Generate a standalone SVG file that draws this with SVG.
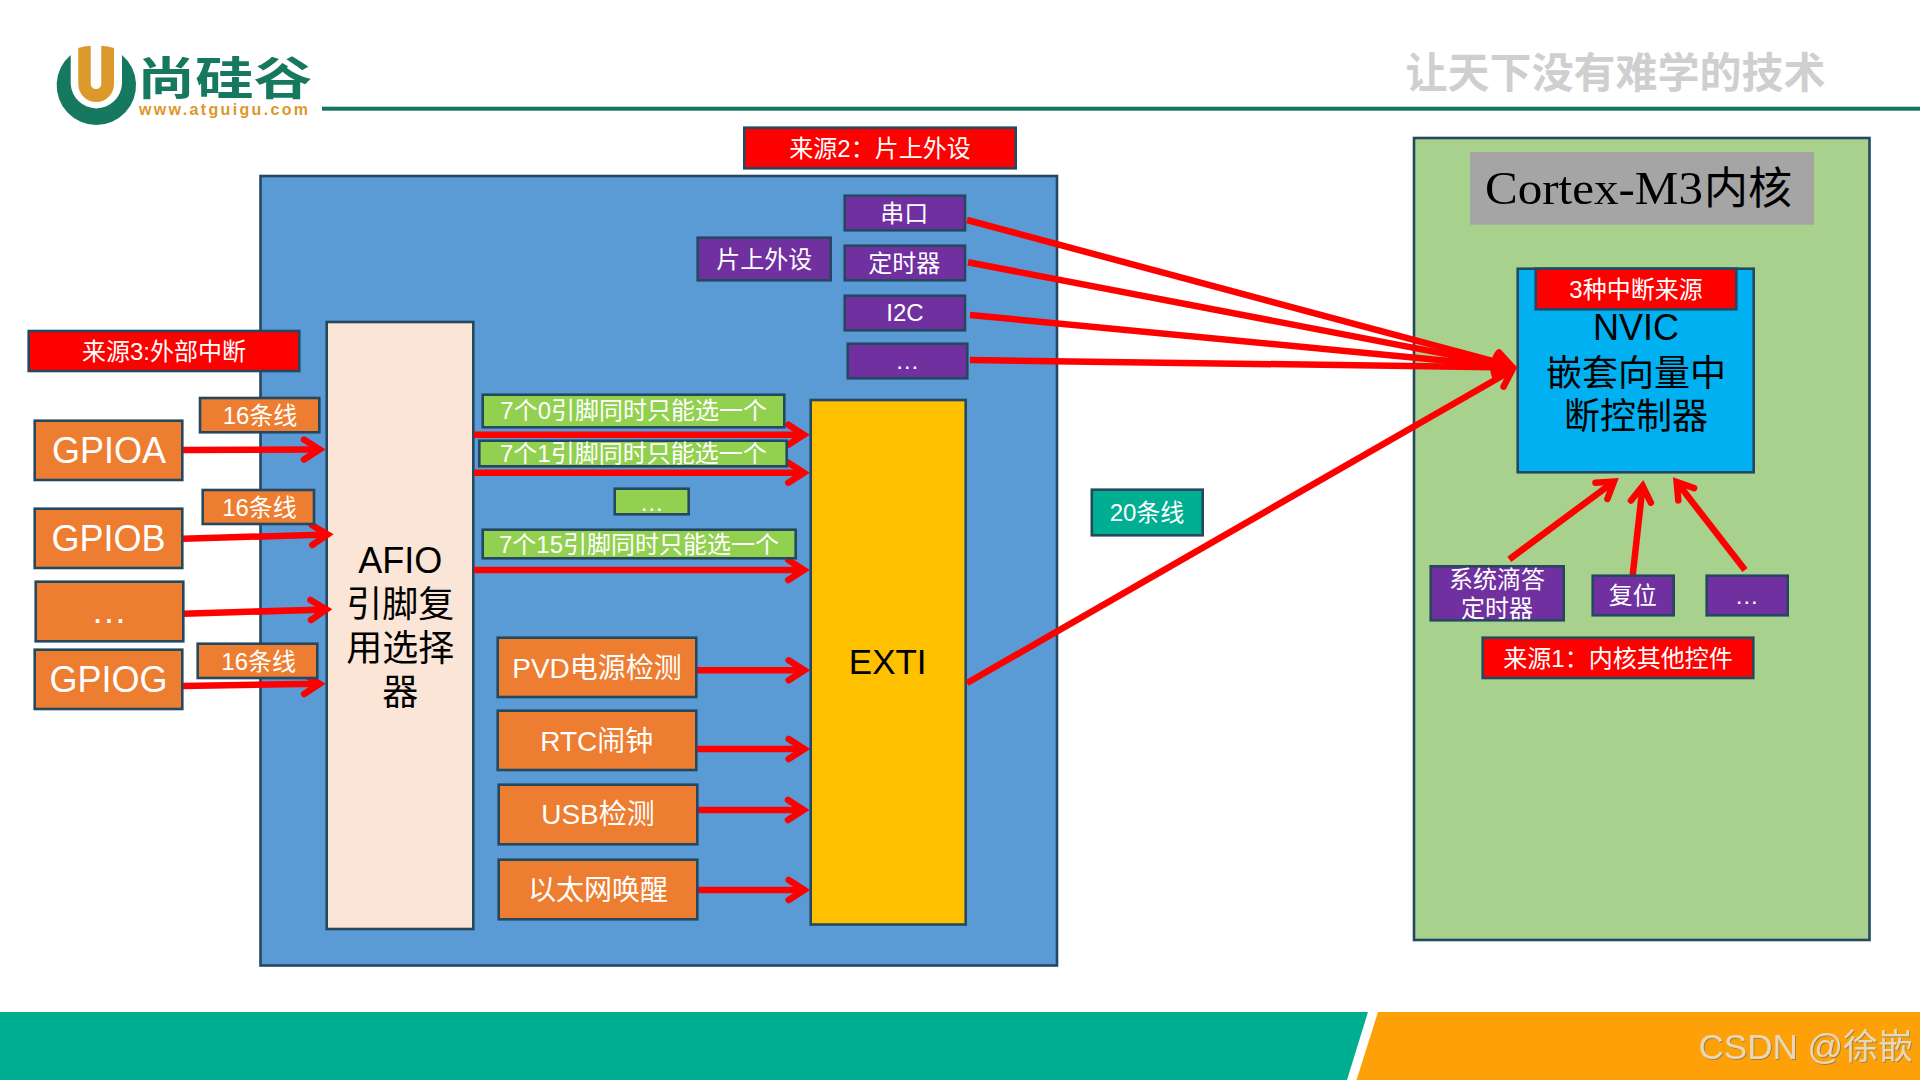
<svg xmlns="http://www.w3.org/2000/svg" width="1920" height="1080" viewBox="0 0 1920 1080">
<style>
text{font-family:"Liberation Sans","Noto Sans CJK SC",sans-serif;text-anchor:middle;fill:#fff}
.k{fill:#000}
.s24{font-size:24px}.s28{font-size:28px}.s36{font-size:36px}
.b{stroke:#254861;stroke-width:2.600}
.red{fill:#f00}.org{fill:#ED7D31}.pur{fill:#7030A0}.grn{fill:#92D050}
.c line{stroke:#f00;stroke-width:6.500;marker-end:url(#a)}
</style>
<defs>
<marker id="a" markerUnits="userSpaceOnUse" markerWidth="40" markerHeight="40" viewBox="-26 -20 40 40" refX="0" refY="0" orient="auto">
<path d="M-16 -10L-.4 0L-16 10" fill="none" stroke="#f00" stroke-width="6.500" stroke-linecap="round"/>
</marker>
<filter id="sh" x="-5%" y="-20%" width="110%" height="140%"><feDropShadow dx="1" dy="1" stdDeviation=".4" flood-color="#a87f30"/></filter>
</defs>
<rect width="1920" height="1080" fill="#fff"/>

<g id="header">
<path d="M70.7 55A39.7 39.7 0 1 0 122 55L122 84A25.7 26 0 0 1 70.7 84Z" fill="#16785F"/>
<path d="M78.3 48Q84 46 90.7 45.7L90.7 83.7A5.3 5.3 0 0 0 101.3 83.700L101.3 45.7Q108 46 114 48L114 84A17.85 18 0 0 1 78.3 84Z" fill="#DC982A"/>
<text x="224.500" y="95" font-size="45" font-weight="700" textLength="175" lengthAdjust="spacingAndGlyphs" style="fill:#16785F">尚硅谷</text>
<text x="223.500" y="115" font-size="16" font-weight="700" textLength="169" style="fill:#DC982A">www.atguigu.com</text>
<rect x="322" y="106.700" width="1598" height="4" fill="#16755E"/>
<text x="1615.500" y="88" font-size="42" font-weight="700" style="fill:#CFCFCF">让天下没有难学的技术</text>
</g>

<g id="footer">
<path d="M0 1012H1368L1347 1080H0Z" fill="#00AF92"/>
<path d="M1378 1012H1920V1080H1356.500Z" fill="#FEA108"/>
<text x="1913" y="1059" font-size="35" filter="url(#sh)" style="text-anchor:end;fill:#E9D8B6">CSDN @徐嵌</text>
</g>

<g id="peripheral-panel"><rect class="b" x="260.500" y="176" width="796.500" height="789.500" fill="#5B9BD5"/></g>
<g id="core-panel"><rect class="b" x="1414" y="138" width="455.500" height="802" fill="#A9D18E"/>
<rect x="1470" y="152" width="344" height="72.700" fill="#A5A5A5"/>
<text y="204" font-size="47" style="font-family:'Liberation Serif','Noto Sans CJK SC',serif;text-anchor:start;fill:#000"><tspan x="1485" textLength="218" lengthAdjust="spacingAndGlyphs">Cortex-M3</tspan><tspan x="1704" style="font-size:44px">内核</tspan></text></g>
<g id="afio"><rect class="b" x="326.700" y="322" width="146.600" height="607" fill="#FBE5D6"/>
<text class="k s36" x="400.300" y="573">AFIO</text><text class="k s36" x="400.300" y="617">引脚复</text><text class="k s36" x="400.300" y="661">用选择</text><text class="k s36" x="400.300" y="704.500">器</text></g>
<g id="exti"><rect class="b" x="810.700" y="400" width="155" height="524.500" fill="#FFC000"/>
<text class="k" font-size="35" x="887.700" y="674">EXTI</text></g>
<g id="nvic"><rect class="b" x="1517.700" y="268.700" width="236" height="203.600" fill="#00B0F0"/>
<text class="k" font-size="36" x="1636" y="340">NVIC</text><text class="k s36" x="1636" y="385.500">嵌套向量中</text><text class="k s36" x="1636" y="429">断控制器</text></g>

<g id="connectors" class="c">
<line x1="183" y1="450" x2="320" y2="449.500"/>
<line x1="183" y1="538.700" x2="328" y2="534.500"/>
<line x1="183" y1="613.700" x2="326.700" y2="609.500"/>
<line x1="183" y1="686" x2="320" y2="683.800"/>
<line x1="474" y1="434.700" x2="804.300" y2="434.700"/>
<line x1="474" y1="472.700" x2="804.300" y2="472.700"/>
<line x1="474" y1="570" x2="804.300" y2="570"/>
<line x1="697" y1="670.300" x2="804.700" y2="670.300"/>
<line x1="697" y1="749" x2="804.700" y2="749"/>
<line x1="697" y1="810" x2="804" y2="810"/>
<line x1="697" y1="890" x2="804.700" y2="890"/>
<line x1="967" y1="220" x2="1511.900" y2="366.200"/>
<line x1="968" y1="262.300" x2="1511.800" y2="366.600"/>
<line x1="970" y1="315" x2="1511.700" y2="367"/>
<line x1="970" y1="360" x2="1511.700" y2="367.400"/>
<line x1="967" y1="683" x2="1512.400" y2="370"/>
<line x1="1509.300" y1="559.300" x2="1614.300" y2="481.300"/>
<line x1="1632.700" y1="575" x2="1642.700" y2="485.700"/>
<line x1="1745" y1="570" x2="1676.400" y2="481.600"/>
</g>

<g id="source2"><rect class="b red" x="744.300" y="127.700" width="271.400" height="40.600"/><text class="s24" x="880" y="157">来源2：片上外设</text></g>
<g id="uart"><rect class="b pur" x="844.700" y="195.700" width="120.300" height="34.600"/><text class="s24" x="904.300" y="221.500">串口</text></g>
<g id="timer"><rect class="b pur" x="844.700" y="245.700" width="120.300" height="34.600"/><text class="s24" x="904.300" y="271.500">定时器</text></g>
<g id="i2c"><rect class="b pur" x="844.700" y="295.700" width="120.300" height="34.600"/><text class="s24" x="905" y="321">I2C</text></g>
<g id="periph-more"><rect class="b pur" x="847.700" y="343.700" width="119.600" height="34.600"/><text class="s24" x="907.300" y="369">…</text></g>
<g id="periph-label"><rect class="b pur" x="697.700" y="237.700" width="133" height="42.600"/><text class="s24" x="764.300" y="267.500">片上外设</text></g>

<g id="source3"><rect class="b red" x="28.700" y="331" width="270.600" height="40"/><text class="s24" x="164" y="360">来源3:外部中断</text></g>
<g id="gpioa"><rect class="b org" x="34.700" y="420.700" width="147.600" height="59.300"/><text class="s36" x="109" y="463">GPIOA</text></g>
<g id="gpiob"><rect class="b org" x="34.700" y="508.700" width="147.600" height="59.300"/><text class="s36" x="108.500" y="551">GPIOB</text></g>
<g id="gpio-more"><rect class="b org" x="35.700" y="581.700" width="147.600" height="59.600"/><text class="s36" x="109" y="623">…</text></g>
<g id="gpiog"><rect class="b org" x="34.700" y="649.700" width="147.600" height="59.300"/><text class="s36" x="108.500" y="692">GPIOG</text></g>
<g id="lines-a"><rect class="b org" x="200" y="398" width="119.300" height="34.300"/><text class="s24" x="260" y="424">16条线</text></g>
<g id="lines-b"><rect class="b org" x="202.700" y="490" width="111.300" height="34"/><text class="s24" x="259.500" y="516">16条线</text></g>
<g id="lines-g"><rect class="b org" x="197.700" y="643.700" width="119.600" height="34.300"/><text class="s24" x="258.700" y="670">16条线</text></g>

<g id="pin0"><rect class="b grn" x="482.700" y="394.700" width="301.600" height="32.600"/><text class="s24" x="633.700" y="419">7个0引脚同时只能选一个</text></g>
<g id="pin1"><rect class="b grn" x="479.300" y="440.700" width="307.400" height="25.600"/><text class="s24" x="633.300" y="462">7个1引脚同时只能选一个</text></g>
<g id="pin-more"><rect class="b grn" x="614.700" y="488.700" width="74" height="25.600"/><text class="s24" x="651.700" y="511">…</text></g>
<g id="pin15"><rect class="b grn" x="482.700" y="529.700" width="313" height="28.600"/><text class="s24" x="639" y="552.500">7个15引脚同时只能选一个</text></g>

<g id="pvd"><rect class="b org" x="497.700" y="637.700" width="198.600" height="59.300"/><text class="s28" x="597" y="677.500">PVD电源检测</text></g>
<g id="rtc"><rect class="b org" x="497.700" y="710.700" width="198.600" height="59.300"/><text class="s28" x="596.700" y="751">RTC闹钟</text></g>
<g id="usb"><rect class="b org" x="498.700" y="784.700" width="198.600" height="59.600"/><text class="s28" x="598" y="824">USB检测</text></g>
<g id="eth"><rect class="b org" x="498.700" y="859.700" width="198.600" height="59.600"/><text class="s28" x="598" y="900">以太网唤醒</text></g>

<g id="lines-20"><rect class="b" x="1091.800" y="489.700" width="110.900" height="45.600" fill="#00AF92"/><text class="s24" x="1147" y="521">20条线</text></g>
<g id="sources-3"><rect class="b red" x="1535.700" y="268.700" width="200.600" height="40.600"/><text class="s24" x="1636" y="298">3种中断来源</text></g>
<g id="systick"><rect class="b pur" x="1430.700" y="566.300" width="133" height="54"/><text class="s24" x="1497" y="588">系统滴答</text><text class="s24" x="1497" y="616.500">定时器</text></g>
<g id="reset"><rect class="b pur" x="1592.700" y="575.700" width="81" height="39.600"/><text class="s24" x="1632.700" y="604">复位</text></g>
<g id="core-more"><rect class="b pur" x="1706.700" y="575.700" width="81" height="39.600"/><text class="s24" x="1746.700" y="604">…</text></g>
<g id="source1"><rect class="b red" x="1482.700" y="637.700" width="270.600" height="40.300"/><text class="s24" x="1618" y="666.500">来源1：内核其他控件</text></g>
</svg>
